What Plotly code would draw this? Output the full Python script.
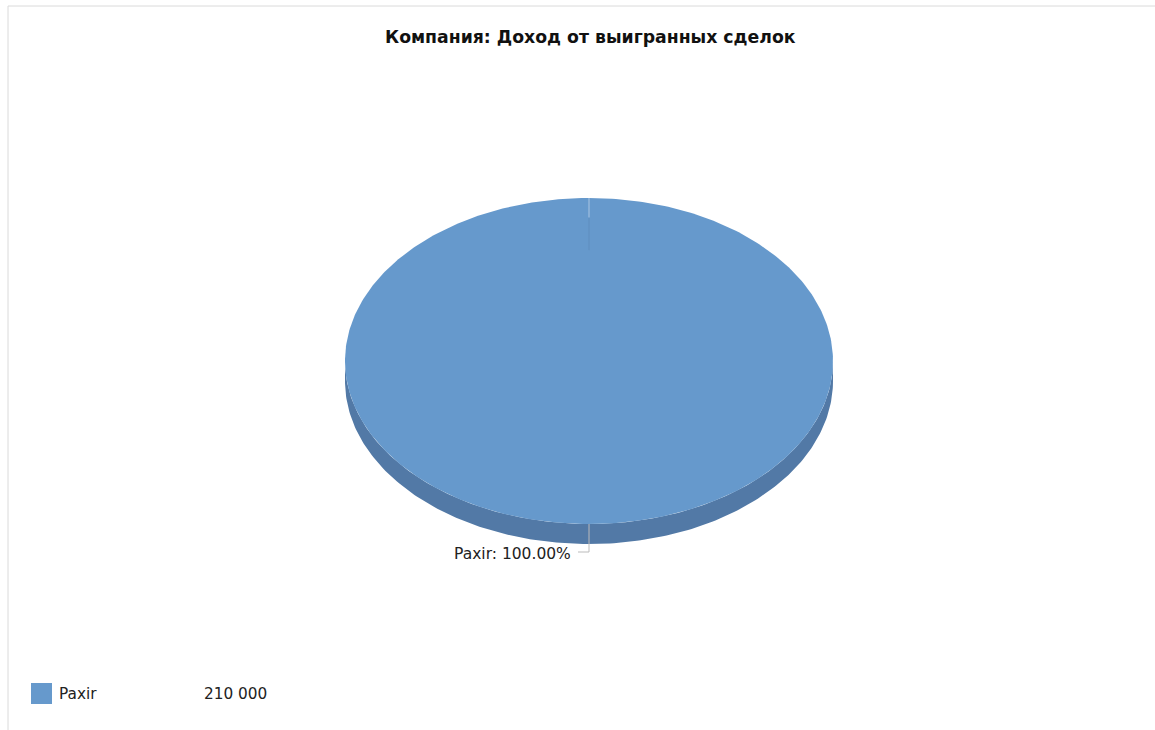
import numpy as np
import plotly.graph_objects as go

# ---- data ----
categories = ["Paxir"]
values = [210000]
slice_colors = ["#6699CC"]
side_colors = ["#5279A6"]
title_text = "Компания: Доход от выигранных сделок"

# ---- geometry / style constants (page pixels) ----
W, H = 1155, 730
CX, CY, RX, RY, DEPTH = 589, 361, 244, 163, 20
START = -90.0  # degrees, 12 o'clock, clockwise (screen y down)
TXT = "#222222"

fig = go.Figure()
total = float(sum(values))


def ell(theta_deg, dy=0.0, k=1.0):
    t = np.radians(theta_deg)
    return CX + k * RX * np.cos(t), CY + k * RY * np.sin(t) + dy


# side band (visible lower half) per slice
a = START
spans = []
for cat, v, sc in zip(categories, values, side_colors):
    a1 = a + 360.0 * v / total
    spans.append((a, a1))
    for shift in (-360, 0, 360):
        lo = max(a + shift, 0.0)
        hi = min(a1 + shift, 180.0)
        if hi > lo:
            th = np.linspace(lo, hi, 200)
            xt, yt = ell(th)
            xb, yb = ell(th[::-1], DEPTH)
            fig.add_trace(go.Scatter(
                x=np.concatenate([xt, xb, xt[:1]]),
                y=np.concatenate([yt, yb, yt[:1]]),
                mode="lines", fill="toself", fillcolor=sc,
                line=dict(width=0, color=sc), hoverinfo="skip", showlegend=False))
    a = a1

# top faces
for (a0, a1), cat, v, c in zip(spans, categories, values, slice_colors):
    th = np.linspace(a0, a1, 400)
    xs, ys = ell(th)
    if a1 - a0 < 359.999:
        xs = np.concatenate([[CX], xs, [CX]])
        ys = np.concatenate([[CY], ys, [CY]])
    fig.add_trace(go.Scatter(
        x=xs, y=ys, mode="lines", fill="toself", fillcolor=c,
        line=dict(width=0, color=c), name=cat,
        hovertemplate=f"{cat}: {v}<extra></extra>", showlegend=False))
    # slice boundary (faint, near the rim)
    bx, by = ell(a0)
    ix, iy = ell(a0, k=0.88)
    fig.add_trace(go.Scatter(
        x=[bx, ix], y=[by, iy], mode="lines",
        line=dict(width=1, color="rgba(255,255,255,0.45)"),
        hoverinfo="skip", showlegend=False))
    jx, jy = ell(a0, k=0.68)
    fig.add_trace(go.Scatter(
        x=[ix, jx], y=[iy, jy], mode="lines",
        line=dict(width=1, color="rgba(80,120,170,0.35)"),
        hoverinfo="skip", showlegend=False))

# labels with leader lines
for (a0, a1), cat, v in zip(spans, categories, values):
    mid = (a0 + a1) / 2.0
    px, py = ell(mid)
    ey = py + DEPTH + 8 if np.sin(np.radians(mid)) > 0 else py - 8
    direction = -1 if np.cos(np.radians(mid)) <= 1e-9 else 1
    ex = px + direction * 11
    fig.add_trace(go.Scatter(
        x=[px, px, ex], y=[py, ey, ey], mode="lines",
        line=dict(width=1, color="#BBBBBB"), hoverinfo="skip", showlegend=False))
    fig.add_annotation(
        x=ex + direction * 5, y=ey + 2, text=f"{cat}: {100.0 * v / total:.2f}%",
        showarrow=False, xanchor="right" if direction < 0 else "left", yanchor="middle",
        font=dict(family="DejaVu Sans", size=15.5, color=TXT))

# legend
LEG_X, LEG_Y, LEG_DY = 41.5, 693.5, 26
for i, (cat, v, c) in enumerate(zip(categories, values, slice_colors)):
    y = LEG_Y + i * LEG_DY
    fig.add_trace(go.Scatter(
        x=[LEG_X], y=[y], mode="markers",
        marker=dict(symbol="square", size=21, color=c, line=dict(width=0)),
        hoverinfo="skip", showlegend=False))
    fig.add_annotation(x=56.5, y=y, text=cat, showarrow=False, xanchor="left",
                       yanchor="middle",
                       font=dict(family="DejaVu Sans", size=15.3, color=TXT))
    fig.add_annotation(x=201.5, y=y, text=f"{v:,}".replace(",", " "), showarrow=False,
                       xanchor="left", yanchor="middle",
                       font=dict(family="DejaVu Sans", size=15.3, color=TXT))

# title
fig.add_annotation(x=590, y=37, text=f"<b>{title_text}</b>", showarrow=False,
                   xanchor="center", yanchor="middle",
                   font=dict(family="DejaVu Sans", size=17.3, color="#111111"))

fig.update_layout(
    width=W, height=H, margin=dict(l=0, r=0, t=0, b=0),
    paper_bgcolor="white", plot_bgcolor="white",
    xaxis=dict(range=[0, W], visible=False, fixedrange=True),
    yaxis=dict(range=[H, 0], visible=False, fixedrange=True),
    shapes=[
        dict(type="line", xref="paper", yref="paper", x0=8 / W, x1=1, y0=1 - 6 / H, y1=1 - 6 / H,
             line=dict(color="#DADADA", width=1)),
        dict(type="line", xref="paper", yref="paper", x0=8 / W, x1=8 / W, y0=0, y1=1 - 6 / H,
             line=dict(color="#DADADA", width=1)),
    ],
)

fig.write_html(
    "out.html",
    config={"displayModeBar": False},
    post_script="document.body.style.margin='0px';document.body.style.overflow='hidden';",
)
